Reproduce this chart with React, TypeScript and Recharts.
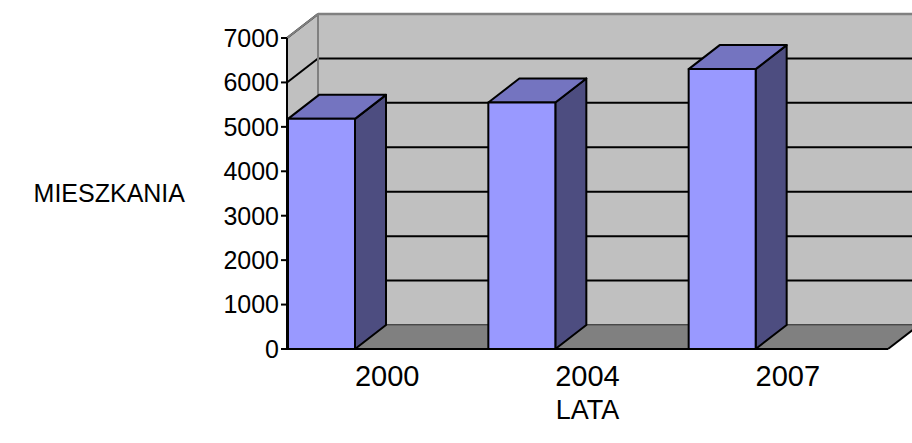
import React from "react";
import {
  BarChart,
  Bar,
  XAxis,
  YAxis,
  CartesianGrid,
  ReferenceArea,
} from "recharts";

const years = ["2000", "2004", "2007"];
const dwellings = [5180, 5550, 6300];
const yTicks = [0, 1000, 2000, 3000, 4000, 5000, 6000, 7000];

const data = years.map((year, i) => ({ year, value: dwellings[i] }));

// depth of the fake 3D box
const DX = 31;
const DY = -24;
const BAR_SHIFT = 66;

const WALL = "#C0C0C0";
const FLOOR = "#808080";
const EDGE = "#808080";

function Walls(props: any) {
  const { x, y, width, height } = props;
  const bottom = y + height;
  return (
    <g>
      <polygon
        points={`${x},${bottom} ${x},${y} ${x + DX},${y + DY} ${x + DX},${bottom + DY}`}
        fill={WALL}
      />
      <rect x={x + DX} y={y + DY} width={width} height={height} fill={WALL} />
    </g>
  );
}

function FloorAndEdges(props: any) {
  const { x, y, width, height } = props;
  const bottom = y + height;
  return (
    <g>
      <polygon
        points={`${x},${bottom} ${x + width},${bottom} ${x + width + DX},${bottom + DY} ${x + DX},${bottom + DY}`}
        fill={FLOOR}
      />
      <line x1={x + DX} y1={bottom + DY} x2={x + width + DX} y2={bottom + DY} stroke="#606060" strokeWidth={1.5} />
      <line x1={x + width} y1={bottom} x2={x + width + DX} y2={bottom + DY} stroke="#000" strokeWidth={2} />
      <line x1={x + DX} y1={y + DY} x2={x + DX} y2={bottom + DY} stroke={EDGE} strokeWidth={2} />
      <line x1={x} y1={y} x2={x + DX} y2={y + DY} stroke={EDGE} strokeWidth={2} />
      <line x1={x + DX} y1={y + DY} x2={x + width + DX} y2={y + DY} stroke={EDGE} strokeWidth={2.5} />
    </g>
  );
}

function GridLine(props: any) {
  const { x1, y1, x2 } = props;
  return (
    <g key={props.key}>
      <line x1={x1} y1={y1} x2={x1 + DX} y2={y1 + DY} stroke="#000" strokeWidth={2} />
      <line x1={x1 + DX} y1={y1 + DY} x2={x2 + DX} y2={y1 + DY} stroke="#000" strokeWidth={2} />
    </g>
  );
}

function Box3D(props: any) {
  const { x, y, width, height } = props;
  if (height <= 0) return null;
  const fx = x - BAR_SHIFT;
  const r = fx + width;
  const b = y + height;
  return (
    <g stroke="#000" strokeWidth={2} strokeLinejoin="round">
      <polygon
        points={`${r},${y} ${r + DX},${y + DY} ${r + DX},${b + DY} ${r},${b}`}
        fill="#4D4D80"
      />
      <polygon
        points={`${fx},${y} ${fx + DX},${y + DY} ${r + DX},${y + DY} ${r},${y}`}
        fill="#7474C0"
      />
      <rect x={fx} y={y} width={width} height={height} fill="#9999FF" />
    </g>
  );
}

export default function App() {
  return (
    <div
      style={{
        position: "absolute",
        left: 0,
        top: 0,
        width: 912,
        height: 443,
        background: "#fff",
        fontFamily: "'Liberation Sans', Arial, sans-serif",
      }}
    >
      <BarChart
        width={912}
        height={443}
        data={data}
        margin={{ top: 38, right: 24, bottom: 54, left: 207 }}
        barSize={67}
      >
        <ReferenceArea y1={0} y2={7000} shape={Walls} zIndex={-300} />
        <CartesianGrid
          vertical={false}
          horizontal={GridLine as any}
          zIndex={-200}
        />
        <ReferenceArea y1={0} y2={7000} shape={FloorAndEdges} zIndex={-150} />
        <XAxis
          dataKey="year"
          height={40}
          tickLine={false}
          tickMargin={10}
          axisLine={{ stroke: "#000", strokeWidth: 2 }}
          tick={{ fill: "#000", fontSize: 29 }}
          label={{ value: "LATA", position: "bottom", offset: 11, fill: "#000", fontSize: 27 }}
        />
        <YAxis
          width={80}
          domain={[0, 7000]}
          ticks={yTicks}
          interval={0}
          axisLine={{ stroke: "#000", strokeWidth: 2 }}
          tickLine={{ stroke: "#000", strokeWidth: 2 }}
          tick={{ fill: "#000", fontSize: 25 }}
          label={{ value: "MIESZKANIA", position: "left", offset: 22, angle: 0, fill: "#000", fontSize: 25 }}
        />
        <Bar dataKey="value" shape={Box3D} isAnimationActive={false} />
      </BarChart>
    </div>
  );
}
